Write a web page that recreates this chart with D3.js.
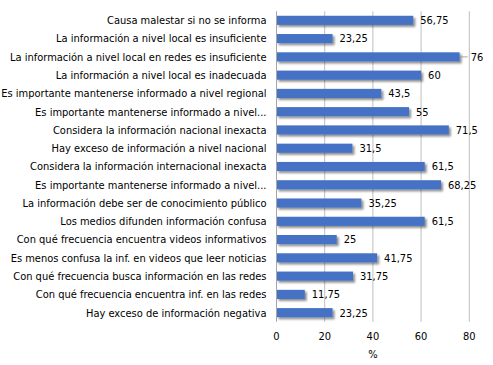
<!DOCTYPE html>
<html>
<head>
<meta charset="utf-8">
<script src="https://cdn.jsdelivr.net/npm/d3@7"></script>
<style>
  body { margin: 0; background: #fff; }
  text { font-family: "Liberation Sans Narrow", "DejaVu Sans Condensed", sans-serif; fill: #000; }
</style>
</head>
<body>
<svg id="chart" width="493" height="365"></svg>
<script>
// categories, top to bottom
var categories = [
  "Causa malestar si no se informa",
  "La información a nivel local es insuficiente",
  "La información a nivel local en redes es insuficiente",
  "La información a nivel local es inadecuada",
  "Es importante mantenerse informado a nivel regional",
  "Es importante mantenerse informado a nivel...",
  "Considera la información nacional inexacta",
  "Hay exceso de información a nivel nacional",
  "Considera la información internacional inexacta",
  "Es importante mantenerse informado a nivel...",
  "La información debe ser de conocimiento público",
  "Los medios difunden información confusa",
  "Con qué frecuencia encuentra videos informativos",
  "Es menos confusa la inf. en videos que leer noticias",
  "Con qué frecuencia busca información en las redes",
  "Con qué frecuencia encuentra inf. en las redes",
  "Hay exceso de información negativa"
];
var values = [56.75, 23.25, 76, 60, 43.5, 55, 71.5, 31.5, 61.5, 68.25, 35.25, 61.5, 25, 41.75, 31.75, 11.75, 23.25];
var xTicks = [0, 20, 40, 60, 80];
var xTitle = "%";

var svg = d3.select("#chart");
var plotLeft = 276.5, plotRight = 469.3, plotTop = 11.2, plotBottom = 321.8;

var x = d3.scaleLinear().domain([0, 80]).range([plotLeft, plotRight]);
var y = d3.scaleBand()
  .domain(d3.range(categories.length))
  .range([plotTop, plotBottom])
  .paddingInner(0.5)
  .paddingOuter(0.25);

var defs = svg.append("defs");
var shadow = defs.append("filter").attr("id", "shadow")
  .attr("x", "-5%").attr("y", "-30%").attr("width", "115%").attr("height", "180%");
shadow.append("feGaussianBlur").attr("in", "SourceAlpha").attr("stdDeviation", 1);
shadow.append("feOffset").attr("dx", 1.5).attr("dy", 1.5);
shadow.append("feComponentTransfer").attr("result", "blur")
  .append("feFuncA").attr("type", "linear").attr("slope", 0.45);
var merge = shadow.append("feMerge");
merge.append("feMergeNode").attr("in", "blur");
merge.append("feMergeNode").attr("in", "SourceGraphic");

// gridlines
svg.append("g")
  .selectAll("line")
  .data(xTicks.slice(1))
  .enter()
  .append("line")
  .attr("x1", function (d) { return x(d); })
  .attr("x2", function (d) { return x(d); })
  .attr("y1", plotTop)
  .attr("y2", plotBottom)
  .attr("stroke", "#bfbfbf")
  .attr("stroke-width", 1);

// bars
svg.append("g")
  .selectAll("rect")
  .data(values)
  .enter()
  .append("rect")
  .attr("x", x(0))
  .attr("y", function (d, i) { return y(i); })
  .attr("width", function (d) { return x(d) - x(0); })
  .attr("height", y.bandwidth())
  .attr("fill", "#4472c4")
  .attr("filter", "url(#shadow)");

// value axis line at 0
svg.append("line")
  .attr("x1", x(0)).attr("x2", x(0))
  .attr("y1", plotTop).attr("y2", plotBottom)
  .attr("stroke", "#a6a6a6");

// value labels
svg.append("g")
  .selectAll("text")
  .data(values)
  .enter()
  .append("text")
  .attr("x", function (d) { return x(d) + (d === 76 ? 11 : 7); })
  .attr("y", function (d, i) { return y(i) + y.bandwidth() / 2; })
  .attr("dy", "0.35em")
  .style("font-size", "11px")
  .text(function (d) { return String(d).replace(".", ","); });

// leader line for the label pushed past the plot edge
values.forEach(function (d, i) {
  if (d === 76) {
    svg.append("line")
      .attr("x1", x(d) + 1).attr("x2", x(d) + 8)
      .attr("y1", y(i) + y.bandwidth() / 2).attr("y2", y(i) + y.bandwidth() / 2)
      .attr("stroke", "#a6a6a6");
  }
});

// category labels
svg.append("g")
  .selectAll("text")
  .data(categories)
  .enter()
  .append("text")
  .attr("x", 266.5)
  .attr("y", function (d, i) { return y(i) + y.bandwidth() / 2; })
  .attr("dy", "0.35em")
  .attr("text-anchor", "end")
  .style("font-size", "11px")
  .text(function (d) { return d; });

// x tick labels
svg.append("g")
  .selectAll("text")
  .data(xTicks)
  .enter()
  .append("text")
  .attr("x", function (d) { return x(d); })
  .attr("y", 336)
  .attr("dy", "0.35em")
  .attr("text-anchor", "middle")
  .style("font-size", "11px")
  .text(function (d) { return d; });

svg.append("text")
  .attr("x", (plotLeft + plotRight) / 2)
  .attr("y", 354)
  .attr("dy", "0.35em")
  .attr("text-anchor", "middle")
  .style("font-size", "11px")
  .text(xTitle);
</script>
</body>
</html>
